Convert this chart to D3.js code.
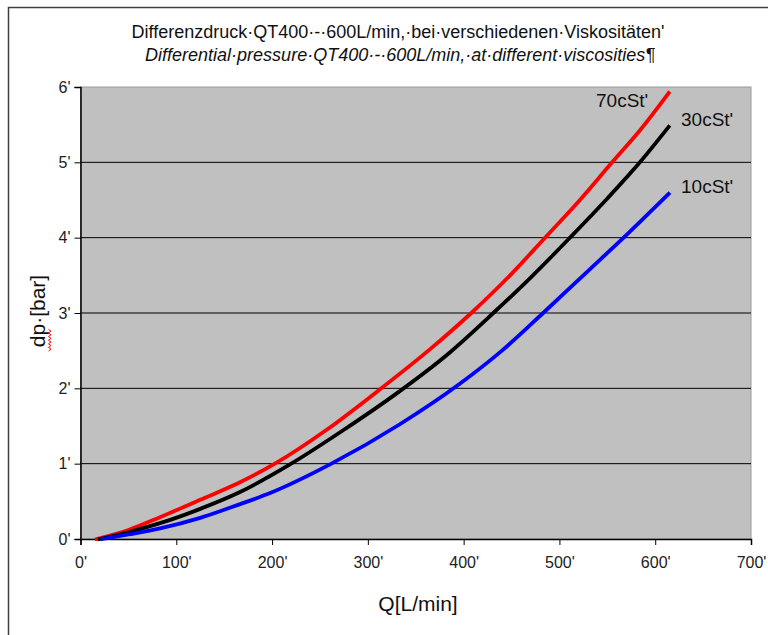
<!DOCTYPE html>
<html>
<head>
<meta charset="utf-8">
<script src="https://cdn.jsdelivr.net/npm/d3@7"></script>
<style>
  html, body { margin: 0; padding: 0; background: #fff; }
  svg { display: block; }
  text { font-family: "Liberation Sans", Arial, sans-serif; }
</style>
</head>
<body>
<svg id="chart" width="768" height="635"></svg>
<script>
// ---- data ----
const titleLine1 = "Differenzdruck·QT400·-·600L/min,·bei·verschiedenen·Viskositäten'";
const titleLine2 = "Differential·pressure·QT400·-·600L/min,·at·different·viscosities¶";
const xTicks = [0, 100, 200, 300, 400, 500, 600, 700];
const yTicks = [0, 1, 2, 3, 4, 5, 6];
const xTickLabels = ["0'", "100'", "200'", "300'", "400'", "500'", "600'", "700'"];
const yTickLabels = ["0'", "1'", "2'", "3'", "4'", "5'", "6'"];
const seriesNames = ["70cSt'", "30cSt'", "10cSt'"];

const q70 = [17, 50, 83, 125, 166, 203, 257, 314, 365, 408, 450, 485, 520, 555, 585, 614];
const dp70 = [0, 0.12, 0.29, 0.52, 0.75, 1.0, 1.45, 2.0, 2.52, 3.0, 3.52, 4.0, 4.48, 5.0, 5.44, 5.92];

const q30 = [20, 50, 83, 125, 166, 220, 275, 333, 385, 431, 470, 511, 550, 584, 614];
const dp30 = [0, 0.09, 0.21, 0.40, 0.62, 1.0, 1.45, 1.96, 2.47, 3.0, 3.47, 4.0, 4.52, 5.0, 5.47];

const q10 = [23, 50, 83, 125, 166, 198, 262, 333, 396, 440, 483, 530, 572, 614];
const dp10 = [0, 0.06, 0.14, 0.28, 0.46, 0.61, 1.0, 1.52, 2.06, 2.5, 3.0, 3.56, 4.06, 4.58];

const series = [
  { name: seriesNames[0], q: q70, dp: dp70, color: "#ff0000" },
  { name: seriesNames[1], q: q30, dp: dp30, color: "#000000" },
  { name: seriesNames[2], q: q10, dp: dp10, color: "#0000ff" }
];

// ---- layout ----
const svg = d3.select("#chart");
const plot = { left: 80.5, right: 751, top: 87, bottom: 539 };
const FONT = "'Liberation Sans', Arial, sans-serif";

const x = d3.scaleLinear().domain([0, 700]).range([plot.left, plot.right]);
const y = d3.scaleLinear().domain([0, 6]).range([plot.bottom, plot.top]);

// outer frame (top and left visible)
svg.append("rect")
  .attr("x", 8.5).attr("y", 7.5)
  .attr("width", 900).attr("height", 900)
  .attr("fill", "none").attr("stroke", "#404040").attr("stroke-width", 1.5);

// titles
svg.append("text").attr("x", 398).attr("y", 38)
  .attr("text-anchor", "middle").attr("font-size", 18).attr("fill", "#111")
  .text(titleLine1);
svg.append("text").attr("x", 400).attr("y", 61)
  .attr("text-anchor", "middle").attr("font-size", 18).attr("font-style", "italic").attr("fill", "#111")
  .text(titleLine2);

// plot background
svg.append("rect")
  .attr("x", plot.left).attr("y", plot.top)
  .attr("width", plot.right - plot.left).attr("height", plot.bottom - plot.top)
  .attr("fill", "#c0c0c0")
  .attr("stroke", "#9a9a9a").attr("stroke-width", 1);

// gridlines
svg.append("g").selectAll("line")
  .data(yTicks.filter(d => d > 0 && d < 6))
  .join("line")
  .attr("x1", plot.left).attr("x2", plot.right)
  .attr("y1", d => y(d)).attr("y2", d => y(d))
  .attr("stroke", "#000").attr("stroke-width", 1);

// axes
const xAxis = d3.axisBottom(x).tickValues(xTicks)
  .tickFormat((d, i) => xTickLabels[i]).tickSize(6).tickPadding(12);
const gx = svg.append("g").attr("transform", `translate(0,${plot.bottom})`).call(xAxis);
gx.select(".domain").attr("stroke", "#000").attr("stroke-width", 1.5);
gx.selectAll(".tick line").attr("stroke", "#000");
gx.selectAll(".tick text").attr("font-size", 16).attr("fill", "#222").attr("font-family", FONT);

const yAxis = d3.axisLeft(y).tickValues(yTicks)
  .tickFormat((d, i) => yTickLabels[i]).tickSize(6).tickPadding(4);
const gy = svg.append("g").attr("transform", `translate(${plot.left},0)`).call(yAxis);
gy.select(".domain").attr("stroke", "#000").attr("stroke-width", 1.5);
gy.selectAll(".tick line").attr("stroke", "#000");
gy.selectAll(".tick text").attr("font-size", 16).attr("fill", "#222").attr("font-family", FONT);

// curves
const line = d3.line()
  .x(d => x(d[0])).y(d => y(d[1]))
  .curve(d3.curveMonotoneX);

svg.append("g").selectAll("path")
  .data(series)
  .join("path")
  .attr("d", s => line(s.q.map((v, i) => [v, s.dp[i]])))
  .attr("fill", "none")
  .attr("stroke", s => s.color)
  .attr("stroke-width", 3.8)
  .attr("stroke-linecap", "square")
  .attr("stroke-linejoin", "round");

// series labels
const labelPos = [
  { x: 596, y: 107 },
  { x: 681, y: 126 },
  { x: 681, y: 193 }
];
svg.append("g").selectAll("text")
  .data(series)
  .join("text")
  .attr("x", (s, i) => labelPos[i].x)
  .attr("y", (s, i) => labelPos[i].y)
  .attr("font-size", 19).attr("fill", "#111")
  .text(s => s.name);

// axis titles
svg.append("text").attr("x", 418).attr("y", 611)
  .attr("text-anchor", "middle").attr("font-size", 21).attr("fill", "#111")
  .text("Q[L/min]");

const yt = svg.append("g").attr("transform", "translate(45,311) rotate(-90)");
yt.append("text").attr("x", 0).attr("y", 0)
  .attr("text-anchor", "middle").attr("font-size", 21).attr("fill", "#111")
  .text("dp·[bar]");
// red wavy underline beneath "dp"
const wave = [];
for (let k = 0; k <= 12; k++) wave.push([-40 + k * 1.8, (k % 2 === 0) ? 3.5 : 6]);
yt.append("path")
  .attr("d", d3.line()(wave))
  .attr("fill", "none").attr("stroke", "#ff0000").attr("stroke-width", 1);
</script>
</body>
</html>
